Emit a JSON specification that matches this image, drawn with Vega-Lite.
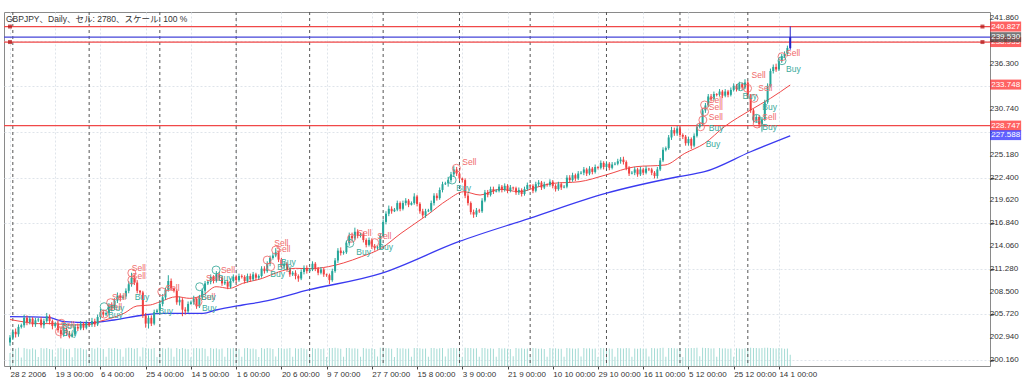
{
"$schema": "https://vega.github.io/schema/vega-lite/v6.json",
"width": 986, "height": 354,
"autosize": {"type": "none"},
"padding": {"left": 4, "top": 12, "right": 34, "bottom": 11},
"background": "white",
"config": {"view": {"stroke": "#8a8a8a", "strokeWidth": 1}, "font": "Liberation Sans"},
"title": {"text": "GBPJPY、Daily、セル: 2780、スケール: 100 %", "anchor": "start", "frame": "group", "orient": "top", "offset": -12, "baseline": "top", "dx": 2, "fontSize": 8.5, "fontWeight": "normal", "font": "Liberation Sans, Noto Sans CJK JP", "color": "#333333"},
"datasets": {
"bars": [
{"i":0,"o":202.3,"h":203.2,"l":201.9,"c":202.9,"v":70},
{"i":1,"o":202.9,"h":203.9,"l":202.6,"c":203.6,"v":96},
{"i":2,"o":203.6,"h":204.0,"l":202.9,"c":203.3,"v":92},
{"i":3,"o":203.3,"h":204.5,"l":203.0,"c":204.2,"v":98},
{"i":4,"o":204.2,"h":204.6,"l":204.0,"c":204.4,"v":45},
{"i":5,"o":204.4,"h":205.7,"l":204.1,"c":205.3,"v":97},
{"i":6,"o":205.3,"h":205.6,"l":204.4,"c":204.8,"v":93},
{"i":7,"o":204.8,"h":205.5,"l":204.5,"c":205.2,"v":90},
{"i":8,"o":205.2,"h":205.4,"l":204.2,"c":204.5,"v":95},
{"i":9,"o":204.5,"h":205.3,"l":204.2,"c":205.0,"v":88},
{"i":10,"o":205.0,"h":205.3,"l":204.8,"c":205.1,"v":48},
{"i":11,"o":205.1,"h":205.4,"l":204.1,"c":204.4,"v":96},
{"i":12,"o":204.4,"h":205.2,"l":204.0,"c":204.9,"v":94},
{"i":13,"o":204.9,"h":205.9,"l":204.7,"c":205.5,"v":97},
{"i":14,"o":205.5,"h":205.7,"l":204.5,"c":204.9,"v":91},
{"i":15,"o":204.9,"h":205.1,"l":203.9,"c":204.3,"v":89},
{"i":16,"o":204.3,"h":204.8,"l":204.1,"c":204.6,"v":50},
{"i":17,"o":204.6,"h":204.9,"l":203.5,"c":203.8,"v":95},
{"i":18,"o":203.8,"h":204.1,"l":202.8,"c":203.3,"v":98},
{"i":19,"o":203.3,"h":204.2,"l":203.0,"c":203.9,"v":93},
{"i":20,"o":203.9,"h":204.1,"l":203.1,"c":203.4,"v":90},
{"i":21,"o":203.4,"h":203.7,"l":202.8,"c":203.0,"v":92},
{"i":22,"o":203.0,"h":203.5,"l":202.9,"c":203.3,"v":47},
{"i":23,"o":203.3,"h":204.5,"l":203.1,"c":204.2,"v":96},
{"i":24,"o":204.2,"h":204.6,"l":203.7,"c":204.0,"v":94},
{"i":25,"o":204.0,"h":204.9,"l":203.8,"c":204.6,"v":97},
{"i":26,"o":204.6,"h":204.8,"l":203.8,"c":204.1,"v":90},
{"i":27,"o":204.1,"h":205.0,"l":203.9,"c":204.7,"v":88},
{"i":28,"o":204.7,"h":204.8,"l":204.3,"c":204.5,"v":52},
{"i":29,"o":204.5,"h":205.3,"l":204.2,"c":204.9,"v":96},
{"i":30,"o":204.9,"h":205.2,"l":204.2,"c":204.5,"v":93},
{"i":31,"o":204.5,"h":205.7,"l":204.3,"c":205.4,"v":98},
{"i":32,"o":205.4,"h":206.4,"l":205.1,"c":206.0,"v":95},
{"i":33,"o":206.0,"h":206.3,"l":205.4,"c":205.7,"v":91},
{"i":34,"o":205.7,"h":206.1,"l":205.5,"c":205.9,"v":49},
{"i":35,"o":205.9,"h":207.1,"l":205.6,"c":206.8,"v":97},
{"i":36,"o":206.8,"h":207.2,"l":206.1,"c":206.5,"v":94},
{"i":37,"o":206.5,"h":207.7,"l":206.3,"c":207.4,"v":96},
{"i":38,"o":207.4,"h":208.4,"l":207.1,"c":208.0,"v":92},
{"i":39,"o":208.0,"h":208.3,"l":207.3,"c":207.7,"v":90},
{"i":40,"o":207.7,"h":208.1,"l":207.5,"c":207.9,"v":50},
{"i":41,"o":207.9,"h":208.9,"l":207.6,"c":208.6,"v":95},
{"i":42,"o":208.6,"h":209.8,"l":208.3,"c":209.4,"v":98},
{"i":43,"o":209.4,"h":210.8,"l":209.1,"c":210.2,"v":97},
{"i":44,"o":210.2,"h":210.6,"l":209.3,"c":209.6,"v":93},
{"i":45,"o":209.6,"h":209.9,"l":208.3,"c":208.6,"v":96},
{"i":46,"o":208.6,"h":208.7,"l":208.1,"c":208.4,"v":51},
{"i":47,"o":208.4,"h":208.6,"l":205.3,"c":205.6,"v":99},
{"i":48,"o":205.6,"h":205.9,"l":204.1,"c":204.6,"v":97},
{"i":49,"o":204.6,"h":205.6,"l":204.0,"c":205.3,"v":94},
{"i":50,"o":205.3,"h":205.6,"l":204.3,"c":204.6,"v":92},
{"i":51,"o":204.6,"h":206.3,"l":204.4,"c":206.0,"v":96},
{"i":52,"o":206.0,"h":206.4,"l":205.8,"c":206.2,"v":48},
{"i":53,"o":206.2,"h":207.3,"l":205.9,"c":207.0,"v":95},
{"i":54,"o":207.0,"h":208.2,"l":206.7,"c":207.8,"v":97},
{"i":55,"o":207.8,"h":209.0,"l":207.5,"c":208.7,"v":93},
{"i":56,"o":208.7,"h":210.5,"l":208.5,"c":209.8,"v":98},
{"i":57,"o":209.8,"h":210.1,"l":208.6,"c":208.9,"v":94},
{"i":58,"o":208.9,"h":209.0,"l":208.4,"c":208.6,"v":50},
{"i":59,"o":208.6,"h":208.8,"l":206.9,"c":207.2,"v":96},
{"i":60,"o":207.2,"h":207.9,"l":206.8,"c":207.5,"v":91},
{"i":61,"o":207.5,"h":207.7,"l":205.5,"c":206.3,"v":97},
{"i":62,"o":206.3,"h":206.6,"l":205.7,"c":206.1,"v":93},
{"i":63,"o":206.1,"h":207.3,"l":205.9,"c":207.0,"v":90},
{"i":64,"o":207.0,"h":207.4,"l":206.9,"c":207.2,"v":47},
{"i":65,"o":207.2,"h":208.0,"l":206.9,"c":207.6,"v":95},
{"i":66,"o":207.6,"h":207.8,"l":206.4,"c":206.7,"v":96},
{"i":67,"o":206.7,"h":208.1,"l":206.5,"c":207.8,"v":94},
{"i":68,"o":207.8,"h":208.9,"l":207.5,"c":208.6,"v":97},
{"i":69,"o":208.6,"h":209.8,"l":208.3,"c":209.5,"v":92},
{"i":70,"o":209.5,"h":209.9,"l":209.3,"c":209.7,"v":52},
{"i":71,"o":209.7,"h":210.6,"l":209.4,"c":210.3,"v":96},
{"i":72,"o":210.3,"h":210.5,"l":209.5,"c":209.8,"v":93},
{"i":73,"o":209.8,"h":211.0,"l":209.6,"c":210.6,"v":95},
{"i":74,"o":210.6,"h":210.9,"l":209.9,"c":210.2,"v":90},
{"i":75,"o":210.2,"h":210.4,"l":209.2,"c":209.5,"v":94},
{"i":76,"o":209.5,"h":209.9,"l":209.3,"c":209.7,"v":49},
{"i":77,"o":209.7,"h":209.9,"l":208.8,"c":209.1,"v":96},
{"i":78,"o":209.1,"h":210.1,"l":208.9,"c":209.8,"v":94},
{"i":79,"o":209.8,"h":210.6,"l":209.6,"c":210.3,"v":97},
{"i":80,"o":210.3,"h":210.5,"l":209.6,"c":209.9,"v":91},
{"i":81,"o":209.9,"h":210.7,"l":209.7,"c":210.4,"v":93},
{"i":82,"o":210.4,"h":210.6,"l":210.1,"c":210.3,"v":50},
{"i":83,"o":210.3,"h":210.5,"l":209.5,"c":209.8,"v":95},
{"i":84,"o":209.8,"h":210.7,"l":209.6,"c":210.4,"v":96},
{"i":85,"o":210.4,"h":210.7,"l":209.7,"c":210.0,"v":92},
{"i":86,"o":210.0,"h":210.9,"l":209.8,"c":210.6,"v":94},
{"i":87,"o":210.6,"h":210.8,"l":209.9,"c":210.2,"v":90},
{"i":88,"o":210.2,"h":210.6,"l":210.0,"c":210.4,"v":48},
{"i":89,"o":210.4,"h":211.6,"l":210.2,"c":211.3,"v":97},
{"i":90,"o":211.3,"h":211.6,"l":210.7,"c":211.0,"v":93},
{"i":91,"o":211.0,"h":212.2,"l":210.8,"c":211.9,"v":96},
{"i":92,"o":211.9,"h":212.9,"l":211.6,"c":212.6,"v":95},
{"i":93,"o":212.6,"h":213.2,"l":212.4,"c":212.9,"v":91},
{"i":94,"o":212.9,"h":213.8,"l":212.7,"c":213.3,"v":51},
{"i":95,"o":213.3,"h":213.5,"l":212.1,"c":212.4,"v":97},
{"i":96,"o":212.4,"h":212.6,"l":211.3,"c":211.6,"v":95},
{"i":97,"o":211.6,"h":212.2,"l":211.3,"c":211.9,"v":92},
{"i":98,"o":211.9,"h":212.1,"l":210.9,"c":211.2,"v":94},
{"i":99,"o":211.2,"h":211.4,"l":210.3,"c":210.6,"v":96},
{"i":100,"o":210.6,"h":211.0,"l":210.4,"c":210.8,"v":49},
{"i":101,"o":210.8,"h":211.1,"l":210.0,"c":210.4,"v":95},
{"i":102,"o":210.4,"h":210.6,"l":209.7,"c":210.1,"v":93},
{"i":103,"o":210.1,"h":211.2,"l":209.9,"c":210.9,"v":97},
{"i":104,"o":210.9,"h":211.7,"l":210.6,"c":211.4,"v":94},
{"i":105,"o":211.4,"h":211.7,"l":210.7,"c":211.0,"v":90},
{"i":106,"o":211.0,"h":211.4,"l":210.9,"c":211.2,"v":52},
{"i":107,"o":211.2,"h":212.2,"l":211.0,"c":211.9,"v":96},
{"i":108,"o":211.9,"h":212.1,"l":211.0,"c":211.3,"v":93},
{"i":109,"o":211.3,"h":211.5,"l":210.5,"c":210.8,"v":95},
{"i":110,"o":210.8,"h":211.5,"l":210.6,"c":211.2,"v":91},
{"i":111,"o":211.2,"h":211.4,"l":210.3,"c":210.6,"v":94},
{"i":112,"o":210.6,"h":210.7,"l":210.3,"c":210.5,"v":48},
{"i":113,"o":210.5,"h":210.7,"l":209.4,"c":209.9,"v":97},
{"i":114,"o":209.9,"h":211.3,"l":209.7,"c":211.0,"v":96},
{"i":115,"o":211.0,"h":212.6,"l":210.8,"c":212.3,"v":98},
{"i":116,"o":212.3,"h":213.8,"l":212.0,"c":213.5,"v":95},
{"i":117,"o":213.5,"h":213.9,"l":212.9,"c":213.2,"v":92},
{"i":118,"o":213.2,"h":213.5,"l":213.0,"c":213.3,"v":50},
{"i":119,"o":213.3,"h":214.7,"l":213.1,"c":214.4,"v":97},
{"i":120,"o":214.4,"h":215.7,"l":214.1,"c":215.3,"v":96},
{"i":121,"o":215.3,"h":215.7,"l":214.6,"c":215.0,"v":94},
{"i":122,"o":215.0,"h":216.3,"l":214.8,"c":215.8,"v":95},
{"i":123,"o":215.8,"h":216.1,"l":215.0,"c":215.3,"v":92},
{"i":124,"o":215.3,"h":215.7,"l":215.1,"c":215.5,"v":49},
{"i":125,"o":215.5,"h":215.8,"l":214.5,"c":214.8,"v":96},
{"i":126,"o":214.8,"h":215.0,"l":213.9,"c":214.2,"v":94},
{"i":127,"o":214.2,"h":215.1,"l":214.0,"c":214.8,"v":93},
{"i":128,"o":214.8,"h":215.0,"l":213.7,"c":214.0,"v":95},
{"i":129,"o":214.0,"h":214.3,"l":213.5,"c":213.8,"v":91},
{"i":130,"o":213.8,"h":214.1,"l":213.6,"c":213.9,"v":51},
{"i":131,"o":213.9,"h":215.6,"l":213.7,"c":215.3,"v":98},
{"i":132,"o":215.3,"h":217.3,"l":215.1,"c":217.0,"v":99},
{"i":133,"o":217.0,"h":218.3,"l":216.7,"c":218.0,"v":97},
{"i":134,"o":218.0,"h":219.0,"l":217.7,"c":218.6,"v":95},
{"i":135,"o":218.6,"h":218.9,"l":218.0,"c":218.3,"v":93},
{"i":136,"o":218.3,"h":218.7,"l":218.2,"c":218.5,"v":48},
{"i":137,"o":218.5,"h":219.6,"l":218.3,"c":219.3,"v":96},
{"i":138,"o":219.3,"h":219.5,"l":218.3,"c":218.6,"v":94},
{"i":139,"o":218.6,"h":219.6,"l":218.4,"c":219.3,"v":95},
{"i":140,"o":219.3,"h":219.9,"l":219.0,"c":219.6,"v":92},
{"i":141,"o":219.6,"h":219.8,"l":218.8,"c":219.1,"v":94},
{"i":142,"o":219.1,"h":219.5,"l":219.0,"c":219.3,"v":50},
{"i":143,"o":219.3,"h":220.5,"l":219.1,"c":220.1,"v":97},
{"i":144,"o":220.1,"h":220.3,"l":218.9,"c":219.2,"v":96},
{"i":145,"o":219.2,"h":219.4,"l":218.0,"c":218.3,"v":95},
{"i":146,"o":218.3,"h":218.6,"l":217.5,"c":217.8,"v":93},
{"i":147,"o":217.8,"h":218.6,"l":217.5,"c":218.3,"v":94},
{"i":148,"o":218.3,"h":218.6,"l":218.2,"c":218.4,"v":49},
{"i":149,"o":218.4,"h":219.6,"l":218.2,"c":219.3,"v":96},
{"i":150,"o":219.3,"h":220.5,"l":219.0,"c":220.2,"v":97},
{"i":151,"o":220.2,"h":220.5,"l":219.6,"c":219.9,"v":93},
{"i":152,"o":219.9,"h":221.2,"l":219.7,"c":220.9,"v":95},
{"i":153,"o":220.9,"h":221.9,"l":220.6,"c":221.6,"v":96},
{"i":154,"o":221.6,"h":221.9,"l":221.5,"c":221.7,"v":51},
{"i":155,"o":221.7,"h":222.5,"l":221.3,"c":222.1,"v":94},
{"i":156,"o":222.1,"h":223.1,"l":221.8,"c":222.8,"v":97},
{"i":157,"o":222.8,"h":223.8,"l":222.5,"c":223.4,"v":96},
{"i":158,"o":223.4,"h":223.7,"l":222.6,"c":222.9,"v":95},
{"i":159,"o":222.9,"h":223.1,"l":222.0,"c":222.3,"v":93},
{"i":160,"o":222.3,"h":222.4,"l":221.8,"c":222.1,"v":48},
{"i":161,"o":222.1,"h":222.3,"l":219.9,"c":220.2,"v":98},
{"i":162,"o":220.2,"h":220.5,"l":219.0,"c":219.3,"v":97},
{"i":163,"o":219.3,"h":219.5,"l":217.9,"c":218.2,"v":96},
{"i":164,"o":218.2,"h":218.5,"l":217.5,"c":217.9,"v":94},
{"i":165,"o":217.9,"h":218.7,"l":217.6,"c":218.4,"v":95},
{"i":166,"o":218.4,"h":218.6,"l":218.1,"c":218.3,"v":50},
{"i":167,"o":218.3,"h":219.9,"l":218.1,"c":219.6,"v":97},
{"i":168,"o":219.6,"h":220.9,"l":219.4,"c":220.6,"v":96},
{"i":169,"o":220.6,"h":220.9,"l":220.0,"c":220.3,"v":93},
{"i":170,"o":220.3,"h":221.3,"l":220.1,"c":221.0,"v":95},
{"i":171,"o":221.0,"h":221.3,"l":220.4,"c":220.7,"v":92},
{"i":172,"o":220.7,"h":221.0,"l":220.6,"c":220.8,"v":49},
{"i":173,"o":220.8,"h":221.6,"l":220.6,"c":221.3,"v":96},
{"i":174,"o":221.3,"h":221.5,"l":220.6,"c":220.9,"v":94},
{"i":175,"o":220.9,"h":221.7,"l":220.7,"c":221.4,"v":95},
{"i":176,"o":221.4,"h":221.6,"l":220.5,"c":220.8,"v":93},
{"i":177,"o":220.8,"h":221.5,"l":220.6,"c":221.2,"v":91},
{"i":178,"o":221.2,"h":221.3,"l":220.9,"c":221.1,"v":52},
{"i":179,"o":221.1,"h":221.3,"l":220.3,"c":220.6,"v":96},
{"i":180,"o":220.6,"h":221.2,"l":220.3,"c":220.9,"v":94},
{"i":181,"o":220.9,"h":221.1,"l":220.1,"c":220.4,"v":95},
{"i":182,"o":220.4,"h":221.3,"l":220.2,"c":221.0,"v":92},
{"i":183,"o":221.0,"h":221.8,"l":220.8,"c":221.5,"v":94},
{"i":184,"o":221.5,"h":221.6,"l":221.2,"c":221.4,"v":48},
{"i":185,"o":221.4,"h":221.6,"l":220.5,"c":220.8,"v":96},
{"i":186,"o":220.8,"h":221.9,"l":220.6,"c":221.6,"v":95},
{"i":187,"o":221.6,"h":222.1,"l":221.3,"c":221.8,"v":93},
{"i":188,"o":221.8,"h":222.0,"l":220.9,"c":221.2,"v":94},
{"i":189,"o":221.2,"h":221.9,"l":221.0,"c":221.6,"v":91},
{"i":190,"o":221.6,"h":221.7,"l":221.3,"c":221.5,"v":50},
{"i":191,"o":221.5,"h":222.2,"l":221.3,"c":221.9,"v":96},
{"i":192,"o":221.9,"h":222.1,"l":221.1,"c":221.4,"v":94},
{"i":193,"o":221.4,"h":221.6,"l":220.7,"c":221.0,"v":95},
{"i":194,"o":221.0,"h":221.9,"l":220.8,"c":221.6,"v":93},
{"i":195,"o":221.6,"h":221.8,"l":220.9,"c":221.2,"v":92},
{"i":196,"o":221.2,"h":221.5,"l":221.1,"c":221.3,"v":49},
{"i":197,"o":221.3,"h":222.7,"l":221.1,"c":222.4,"v":97},
{"i":198,"o":222.4,"h":222.7,"l":221.8,"c":222.1,"v":95},
{"i":199,"o":222.1,"h":223.0,"l":221.9,"c":222.7,"v":94},
{"i":200,"o":222.7,"h":222.9,"l":222.0,"c":222.3,"v":93},
{"i":201,"o":222.3,"h":223.2,"l":222.1,"c":222.9,"v":95},
{"i":202,"o":222.9,"h":223.2,"l":222.8,"c":223.0,"v":51},
{"i":203,"o":223.0,"h":223.7,"l":222.7,"c":223.4,"v":96},
{"i":204,"o":223.4,"h":223.6,"l":222.6,"c":222.9,"v":94},
{"i":205,"o":222.9,"h":223.8,"l":222.7,"c":223.5,"v":95},
{"i":206,"o":223.5,"h":223.7,"l":222.8,"c":223.1,"v":92},
{"i":207,"o":223.1,"h":224.0,"l":222.9,"c":223.7,"v":94},
{"i":208,"o":223.7,"h":223.8,"l":223.4,"c":223.6,"v":48},
{"i":209,"o":223.6,"h":224.5,"l":223.4,"c":224.2,"v":96},
{"i":210,"o":224.2,"h":224.4,"l":223.4,"c":223.7,"v":95},
{"i":211,"o":223.7,"h":224.4,"l":223.5,"c":224.1,"v":93},
{"i":212,"o":224.1,"h":224.3,"l":223.3,"c":223.6,"v":94},
{"i":213,"o":223.6,"h":224.3,"l":223.4,"c":224.0,"v":92},
{"i":214,"o":224.0,"h":224.3,"l":223.9,"c":224.1,"v":50},
{"i":215,"o":224.1,"h":224.7,"l":223.9,"c":224.4,"v":96},
{"i":216,"o":224.4,"h":224.9,"l":224.1,"c":224.6,"v":95},
{"i":217,"o":224.6,"h":224.95,"l":224.0,"c":224.3,"v":94},
{"i":218,"o":224.3,"h":224.5,"l":223.3,"c":223.6,"v":96},
{"i":219,"o":223.6,"h":223.8,"l":222.6,"c":222.9,"v":95},
{"i":220,"o":222.9,"h":223.2,"l":222.8,"c":223.0,"v":49},
{"i":221,"o":223.0,"h":223.7,"l":222.7,"c":223.4,"v":94},
{"i":222,"o":223.4,"h":223.6,"l":222.5,"c":222.8,"v":93},
{"i":223,"o":222.8,"h":223.7,"l":222.6,"c":223.4,"v":95},
{"i":224,"o":223.4,"h":223.6,"l":222.7,"c":223.0,"v":92},
{"i":225,"o":223.0,"h":223.8,"l":222.8,"c":223.5,"v":94},
{"i":226,"o":223.5,"h":223.6,"l":223.2,"c":223.4,"v":51},
{"i":227,"o":223.4,"h":223.6,"l":222.7,"c":223.0,"v":96},
{"i":228,"o":223.0,"h":223.2,"l":222.3,"c":222.6,"v":95},
{"i":229,"o":222.6,"h":223.7,"l":222.3,"c":223.4,"v":94},
{"i":230,"o":223.4,"h":224.8,"l":223.2,"c":224.5,"v":97},
{"i":231,"o":224.5,"h":226.1,"l":224.3,"c":225.8,"v":98},
{"i":232,"o":225.8,"h":226.2,"l":225.6,"c":226.0,"v":50},
{"i":233,"o":226.0,"h":227.6,"l":225.8,"c":227.3,"v":97},
{"i":234,"o":227.3,"h":228.6,"l":227.0,"c":228.2,"v":96},
{"i":235,"o":228.2,"h":228.5,"l":227.5,"c":227.8,"v":95},
{"i":236,"o":227.8,"h":228.7,"l":227.5,"c":228.4,"v":94},
{"i":237,"o":228.4,"h":228.6,"l":227.3,"c":227.6,"v":96},
{"i":238,"o":227.6,"h":227.8,"l":227.1,"c":227.4,"v":48},
{"i":239,"o":227.4,"h":227.6,"l":226.3,"c":226.6,"v":97},
{"i":240,"o":226.6,"h":227.4,"l":226.3,"c":227.1,"v":95},
{"i":241,"o":227.1,"h":227.3,"l":225.9,"c":226.3,"v":96},
{"i":242,"o":226.3,"h":227.8,"l":226.1,"c":227.5,"v":97},
{"i":243,"o":227.5,"h":228.9,"l":227.3,"c":228.6,"v":98},
{"i":244,"o":228.6,"h":229.1,"l":228.4,"c":228.9,"v":52},
{"i":245,"o":228.9,"h":230.9,"l":228.7,"c":230.6,"v":98},
{"i":246,"o":230.6,"h":231.5,"l":230.3,"c":231.2,"v":97},
{"i":247,"o":231.2,"h":232.6,"l":231.0,"c":232.3,"v":96},
{"i":248,"o":232.3,"h":232.6,"l":231.7,"c":232.0,"v":94},
{"i":249,"o":232.0,"h":232.9,"l":231.8,"c":232.6,"v":95},
{"i":250,"o":232.6,"h":232.7,"l":232.3,"c":232.5,"v":49},
{"i":251,"o":232.5,"h":233.2,"l":232.3,"c":232.9,"v":96},
{"i":252,"o":232.9,"h":233.1,"l":232.1,"c":232.4,"v":94},
{"i":253,"o":232.4,"h":233.2,"l":232.2,"c":232.9,"v":95},
{"i":254,"o":232.9,"h":233.1,"l":232.2,"c":232.5,"v":93},
{"i":255,"o":232.5,"h":233.4,"l":232.3,"c":233.1,"v":94},
{"i":256,"o":233.1,"h":233.9,"l":232.9,"c":233.6,"v":50},
{"i":257,"o":233.6,"h":233.8,"l":232.9,"c":233.2,"v":95},
{"i":258,"o":233.2,"h":234.1,"l":233.0,"c":233.8,"v":94},
{"i":259,"o":233.8,"h":234.0,"l":233.1,"c":233.4,"v":93},
{"i":260,"o":233.4,"h":234.4,"l":233.2,"c":234.0,"v":95},
{"i":261,"o":234.0,"h":234.2,"l":232.1,"c":232.4,"v":97},
{"i":262,"o":232.4,"h":232.6,"l":230.3,"c":230.6,"v":98},
{"i":263,"o":230.6,"h":230.8,"l":229.1,"c":229.4,"v":97},
{"i":264,"o":229.4,"h":230.1,"l":229.1,"c":229.8,"v":96},
{"i":265,"o":229.8,"h":230.0,"l":228.5,"c":228.9,"v":95},
{"i":266,"o":228.9,"h":229.8,"l":228.0,"c":229.5,"v":96},
{"i":267,"o":229.5,"h":231.9,"l":229.3,"c":231.6,"v":98},
{"i":268,"o":231.6,"h":233.9,"l":231.4,"c":233.6,"v":98},
{"i":269,"o":233.6,"h":235.7,"l":233.4,"c":235.4,"v":97},
{"i":270,"o":235.4,"h":236.2,"l":235.1,"c":235.9,"v":95},
{"i":271,"o":235.9,"h":236.3,"l":235.3,"c":235.6,"v":94},
{"i":272,"o":235.6,"h":236.9,"l":235.4,"c":236.6,"v":96},
{"i":273,"o":236.6,"h":237.5,"l":236.4,"c":237.2,"v":95},
{"i":274,"o":237.2,"h":237.8,"l":237.0,"c":237.5,"v":93},
{"i":275,"o":237.5,"h":238.5,"l":237.2,"c":238.2,"v":94},
{"i":276,"o":238.2,"h":240.83,"l":238.0,"c":239.53,"v":60}
],
"maf": [
{"i":0,"p":205.1},{"i":5,"p":204.8},{"i":10,"p":204.6},{"i":15,"p":204.6},{"i":21.6,"p":204.43},{"i":28,"p":204.5},{"i":32,"p":204.9},{"i":35.6,"p":205.24},{"i":40.3,"p":205.85},{"i":44.9,"p":206.75},{"i":49.6,"p":206.87},{"i":53.1,"p":207.27},{"i":58.9,"p":207.88},{"i":63.6,"p":207.68},{"i":68.3,"p":208.09},{"i":72.9,"p":209.1},{"i":77.6,"p":208.9},{"i":82.3,"p":209.51},{"i":89.3,"p":210.12},{"i":95,"p":210.9},{"i":100.9,"p":211.34},{"i":106,"p":211.3},{"i":112.6,"p":211.54},{"i":118,"p":212.0},{"i":124.3,"p":212.76},{"i":131.3,"p":213.78},{"i":138.3,"p":215.61},{"i":147.6,"p":217.84},{"i":154.7,"p":219.67},{"i":160.5,"p":220.68},{"i":166.3,"p":220.28},{"i":173.3,"p":220.98},{"i":180.3,"p":220.68},{"i":186,"p":221.2},{"i":192,"p":221.7},{"i":201.3,"p":221.9},{"i":210.7,"p":222.72},{"i":221.2,"p":223.73},{"i":231.7,"p":223.94},{"i":238.7,"p":225.36},{"i":245.7,"p":226.58},{"i":252.7,"p":228.61},{"i":262,"p":230.65},{"i":269,"p":232.07},{"i":276,"p":233.7}
],
"mas": [
{"i":0,"p":205.44},{"i":13.4,"p":205.37},{"i":19.3,"p":204.83},{"i":28.6,"p":204.71},{"i":36.8,"p":205.04},{"i":47.3,"p":205.65},{"i":54.3,"p":205.85},{"i":68.3,"p":205.85},{"i":72.9,"p":206.26},{"i":82.3,"p":206.87},{"i":89.3,"p":207.27},{"i":105.6,"p":208.7},{"i":131.3,"p":210.73},{"i":158.7,"p":214.59},{"i":183.8,"p":217.44},{"i":210.7,"p":220.48},{"i":236.3,"p":222.51},{"i":245.7,"p":223.12},{"i":262,"p":225.56},{"i":276,"p":227.5}
],
"yt": [
{"p":200.16,"t":"200.160"},{"p":202.94,"t":"202.940"},{"p":205.72,"t":"205.720"},{"p":208.5,"t":"208.500"},{"p":211.28,"t":"211.280"},{"p":214.06,"t":"214.060"},{"p":216.84,"t":"216.840"},{"p":219.62,"t":"219.620"},{"p":222.4,"t":"222.400"},{"p":225.18,"t":"225.180"},{"p":230.74,"t":"230.740"},{"p":236.3,"t":"236.300"},{"p":241.86,"t":"241.860"}
],
"lv": [
{"p":240.827,"k":"level"},{"p":239.53,"k":"bid"},{"p":238.935,"k":"level"},{"p":228.747,"k":"level"}
],
"bd": [
{"p":240.827,"t":"240.827","k":"level","z":0},
{"p":238.935,"t":"238.935","k":"level","z":0},
{"p":233.748,"t":"233.748","k":"fast","z":0},
{"p":228.747,"t":"228.747","k":"level","z":0},
{"p":227.588,"t":"227.588","k":"slow","z":0},
{"p":239.53,"t":"239.530","k":"bid","z":1}
],
"sep": [{"i":1},{"i":28},{"i":53},{"i":80},{"i":106},{"i":132},{"i":159},{"i":184},{"i":211},{"i":237},{"i":261}],
"sig": [
{"i":43.1,"p":211.38,"t":"Sell"},{"i":43.1,"p":210.4,"t":"Sell"},{"i":44.1,"p":207.84,"t":"Buy"},
{"i":36.1,"p":207.84,"t":"Sell"},{"i":34.7,"p":206.62,"t":"Sell"},{"i":34.7,"p":205.65,"t":"Buy"},{"i":35.2,"p":206.5,"t":"Buy"},
{"i":52.5,"p":206.14,"t":"Buy"},{"i":55.0,"p":208.94,"t":"Sell"},
{"i":17.9,"p":204.43,"t":"Sell"},{"i":18.2,"p":204.3,"t":"Buy"},{"i":18.6,"p":203.45,"t":"Buy"},
{"i":67.6,"p":207.84,"t":"Sell"},{"i":67.6,"p":207.84,"t":"Buy"},{"i":67.9,"p":206.5,"t":"Buy"},
{"i":74.6,"p":211.14,"t":"Sell"},{"i":69.3,"p":210.16,"t":"Sell"},{"i":73.5,"p":210.16,"t":"Buy"},
{"i":93.5,"p":214.43,"t":"Sell"},{"i":94.2,"p":213.7,"t":"Sell"},{"i":95.9,"p":212.11,"t":"Buy"},{"i":94.5,"p":211.5,"t":"Buy"},{"i":92.1,"p":210.65,"t":"Buy"},
{"i":122.9,"p":215.65,"t":"Sell"},{"i":122.5,"p":213.33,"t":"Buy"},{"i":129.9,"p":215.28,"t":"Sell"},{"i":130.3,"p":213.94,"t":"Buy"},
{"i":160.0,"p":224.31,"t":"Sell"},{"i":157.9,"p":221.14,"t":"Buy"},
{"i":246.1,"p":226.5,"t":"Buy"},{"i":247.2,"p":228.45,"t":"Buy"},{"i":247.2,"p":231.87,"t":"Sell"},{"i":247.2,"p":231.01,"t":"Sell"},{"i":247.2,"p":229.79,"t":"Sell"},
{"i":262.3,"p":234.92,"t":"Sell"},{"i":264.7,"p":233.33,"t":"Sell"},{"i":259.1,"p":232.36,"t":"Buy"},
{"i":266.1,"p":231.01,"t":"Buy"},{"i":266.1,"p":229.79,"t":"Sell"},{"i":266.1,"p":228.57,"t":"Buy"},
{"i":274.5,"p":237.6,"t":"Sell"},{"i":274.5,"p":235.65,"t":"Buy"}
],
"circ": [
{"i":43.1,"p":210.77,"t":"Sell"},{"i":43.1,"p":209.92,"t":"Sell"},
{"i":33.3,"p":206.66,"t":"Buy"},{"i":35.6,"p":207.15,"t":"Sell"},{"i":33.3,"p":205.76,"t":"Sell"},
{"i":17.5,"p":203.61,"t":"Sell"},{"i":18.1,"p":204.64,"t":"Sell"},
{"i":53.7,"p":208.49,"t":"Sell"},{"i":66.5,"p":207.27,"t":"Sell"},{"i":67.1,"p":209.1,"t":"Buy"},{"i":72.9,"p":211.14,"t":"Buy"},
{"i":94.0,"p":213.57,"t":"Sell"},{"i":91.0,"p":212.35,"t":"Sell"},{"i":92.2,"p":211.54,"t":"Sell"},
{"i":120.8,"p":215.0,"t":"Sell"},{"i":120.2,"p":214.39,"t":"Buy"},{"i":129.0,"p":214.47,"t":"Sell"},
{"i":157.9,"p":223.54,"t":"Sell"},{"i":156.4,"p":222.11,"t":"Buy"},
{"i":245.7,"p":231.26,"t":"Sell"},{"i":245.7,"p":230.44,"t":"Sell"},{"i":245.1,"p":229.43,"t":"Sell"},{"i":244.3,"p":228.61,"t":"Sell"},
{"i":258.5,"p":233.49,"t":"Buy"},{"i":260.9,"p":233.29,"t":"Sell"},{"i":263.2,"p":232.07,"t":"Sell"},{"i":264.1,"p":229.63,"t":"Buy"},{"i":264.3,"p":228.94,"t":"Sell"},
{"i":273.1,"p":237.15,"t":"Sell"},{"i":273.1,"p":236.66,"t":"Buy"}
]
},
"resolve": {"scale": {"y": "independent"}, "axis": {"y": "independent"}},
"layer": [
{
"data": {"name": "bars"},
"mark": {"type": "bar", "size": 1, "color": "#a3dbd4"},
"encoding": {
"x": {"field": "i", "type": "quantitative", "title": null,
"scale": {"domain": [-0.35, 344.9], "nice": false, "zero": false},
"axis": {"values": [0,16,32,48,64,80,96,112,128,144,160,176,192,208,224,240,256,272],
"labelExpr": "['28 2 2006','19 3 00:00','6 4 00:00','25 4 00:00','14 5 00:00','1 6 00:00','20 6 00:00','9 7 00:00','27 7 00:00','15 8 00:00','3 9 00:00','21 9 00:00','10 10 00:00','29 10 00:00','16 11 00:00','5 12 00:00','25 12 00:00','14 1 00:00'][round(datum.value/16)]",
"labelAlign": "left", "labelPadding": 1, "labelFontSize": 8, "labelColor": "#333333", "labelFlush": false, "labelOverlap": false,
"tickSize": 3, "tickColor": "#444444", "domain": false, "grid": true, "gridColor": "#dfe4ea", "gridDash": [2, 2]}},
"y": {"field": "v", "type": "quantitative", "title": null, "scale": {"domain": [0, 1900]}, "axis": null}
}
},
{
"layer": [
{
"data": {"name": "sep"},
"mark": {"type": "rule", "color": "#555555", "strokeDash": [3, 3], "strokeWidth": 1},
"encoding": {"x": {"field": "i", "type": "quantitative", "title": null}}
},
{
"data": {"name": "lv"},
"mark": {"type": "rule", "strokeWidth": 1.2},
"encoding": {
"y": {"field": "p", "type": "quantitative", "title": null,
"scale": {"domain": [199.43, 242.6], "nice": false, "zero": false},
"axis": {"orient": "right", "values": [200.16,202.94,205.72,208.5,211.28,214.06,216.84,219.62,222.4,225.18,227.96,230.74,233.52,236.3,239.08,241.86],
"labels": false, "tickSize": 4, "tickColor": "#444444", "domain": false,
"grid": true, "gridColor": "#dfe4ea", "gridDash": [2, 2]}},
"color": {"condition": {"test": "datum.k == 'bid'", "value": "#4545d8"}, "value": "#f04848"}
}
},
{
"data": {"name": "yt"},
"mark": {"type": "text", "align": "left", "baseline": "middle", "fontSize": 8, "color": "#333333"},
"encoding": {"x": {"datum": 346.6}, "y": {"field": "p", "type": "quantitative", "title": null}, "text": {"field": "t"}}
},
{
"data": {"name": "lv"},
"transform": [{"filter": "datum.p > 238"}, {"filter": "datum.k == 'level'"}],
"mark": {"type": "point", "shape": "square", "filled": true, "size": 16, "color": "#b01010"},
"encoding": {"x": {"datum": 0}, "y": {"field": "p", "type": "quantitative", "title": null}}
},
{
"data": {"name": "lv"},
"transform": [{"filter": "datum.p > 238"}, {"filter": "datum.k == 'level'"}],
"mark": {"type": "point", "shape": "square", "filled": true, "size": 16, "color": "#b01010"},
"encoding": {"x": {"datum": 344}, "y": {"field": "p", "type": "quantitative", "title": null}}
},
{
"data": {"name": "mas"},
"mark": {"type": "line", "color": "#3a3af0", "strokeWidth": 1.3, "interpolate": "monotone"},
"encoding": {"x": {"field": "i", "type": "quantitative", "title": null}, "y": {"field": "p", "type": "quantitative", "title": null}}
},
{
"data": {"name": "maf"},
"mark": {"type": "line", "color": "#f04848", "strokeWidth": 1, "interpolate": "monotone"},
"encoding": {"x": {"field": "i", "type": "quantitative", "title": null}, "y": {"field": "p", "type": "quantitative", "title": null}}
},
{
"data": {"name": "bars"},
"mark": {"type": "rule", "strokeWidth": 1},
"encoding": {
"x": {"field": "i", "type": "quantitative", "title": null},
"y": {"field": "l", "type": "quantitative", "title": null},
"y2": {"field": "h"},
"color": {"condition": [{"test": "datum.i == 276", "value": "#2424c8"}, {"test": "datum.c >= datum.o", "value": "#26a69a"}], "value": "#ef4040"}
}
},
{
"data": {"name": "bars"},
"mark": {"type": "bar", "size": 2},
"encoding": {
"x": {"field": "i", "type": "quantitative", "title": null},
"y": {"field": "o", "type": "quantitative", "title": null},
"y2": {"field": "c"},
"color": {"condition": [{"test": "datum.i == 276", "value": "#2424c8"}, {"test": "datum.c >= datum.o", "value": "#26a69a"}], "value": "#ef4040"}
}
},
{
"data": {"name": "circ"},
"mark": {"type": "point", "shape": "circle", "filled": false, "size": 64, "strokeWidth": 1, "opacity": 0.85},
"encoding": {
"x": {"field": "i", "type": "quantitative", "title": null},
"y": {"field": "p", "type": "quantitative", "title": null},
"color": {"condition": {"test": "datum.t == 'Buy'", "value": "#3aaa9c"}, "value": "#f06a6a"}
}
},
{
"data": {"name": "sig"},
"mark": {"type": "text", "align": "left", "baseline": "middle", "fontSize": 8.5},
"encoding": {
"x": {"field": "i", "type": "quantitative", "title": null},
"y": {"field": "p", "type": "quantitative", "title": null},
"text": {"field": "t"},
"color": {"condition": {"test": "datum.t == 'Buy'", "value": "#3aaa9c"}, "value": "#f06a6a"}
}
},
{
"data": {"name": "bd"},
"transform": [{"filter": "datum.z == 0"}],
"layer": [
{"mark": {"type": "tick", "orient": "horizontal", "size": 31, "thickness": 10},
 "encoding": {"x": {"datum": 352.2}, "y": {"field": "p", "type": "quantitative", "title": null},
 "color": {"condition": {"test": "datum.k == 'slow'", "value": "#1e1eff"}, "value": "#ff1f1f"}}},
{"mark": {"type": "text", "align": "center", "baseline": "middle", "fontSize": 8, "color": "white"},
 "encoding": {"x": {"datum": 352.2}, "y": {"field": "p", "type": "quantitative", "title": null}, "text": {"field": "t"}}}
]
},
{
"data": {"name": "bd"},
"transform": [{"filter": "datum.z == 1"}],
"layer": [
{"mark": {"type": "tick", "orient": "horizontal", "size": 31, "thickness": 10, "color": "#3c3c3c"},
 "encoding": {"x": {"datum": 352.2}, "y": {"field": "p", "type": "quantitative", "title": null}}},
{"mark": {"type": "text", "align": "center", "baseline": "middle", "fontSize": 8, "color": "white"},
 "encoding": {"x": {"datum": 352.2}, "y": {"field": "p", "type": "quantitative", "title": null}, "text": {"field": "t"}}}
]
}
]
}
]
}
